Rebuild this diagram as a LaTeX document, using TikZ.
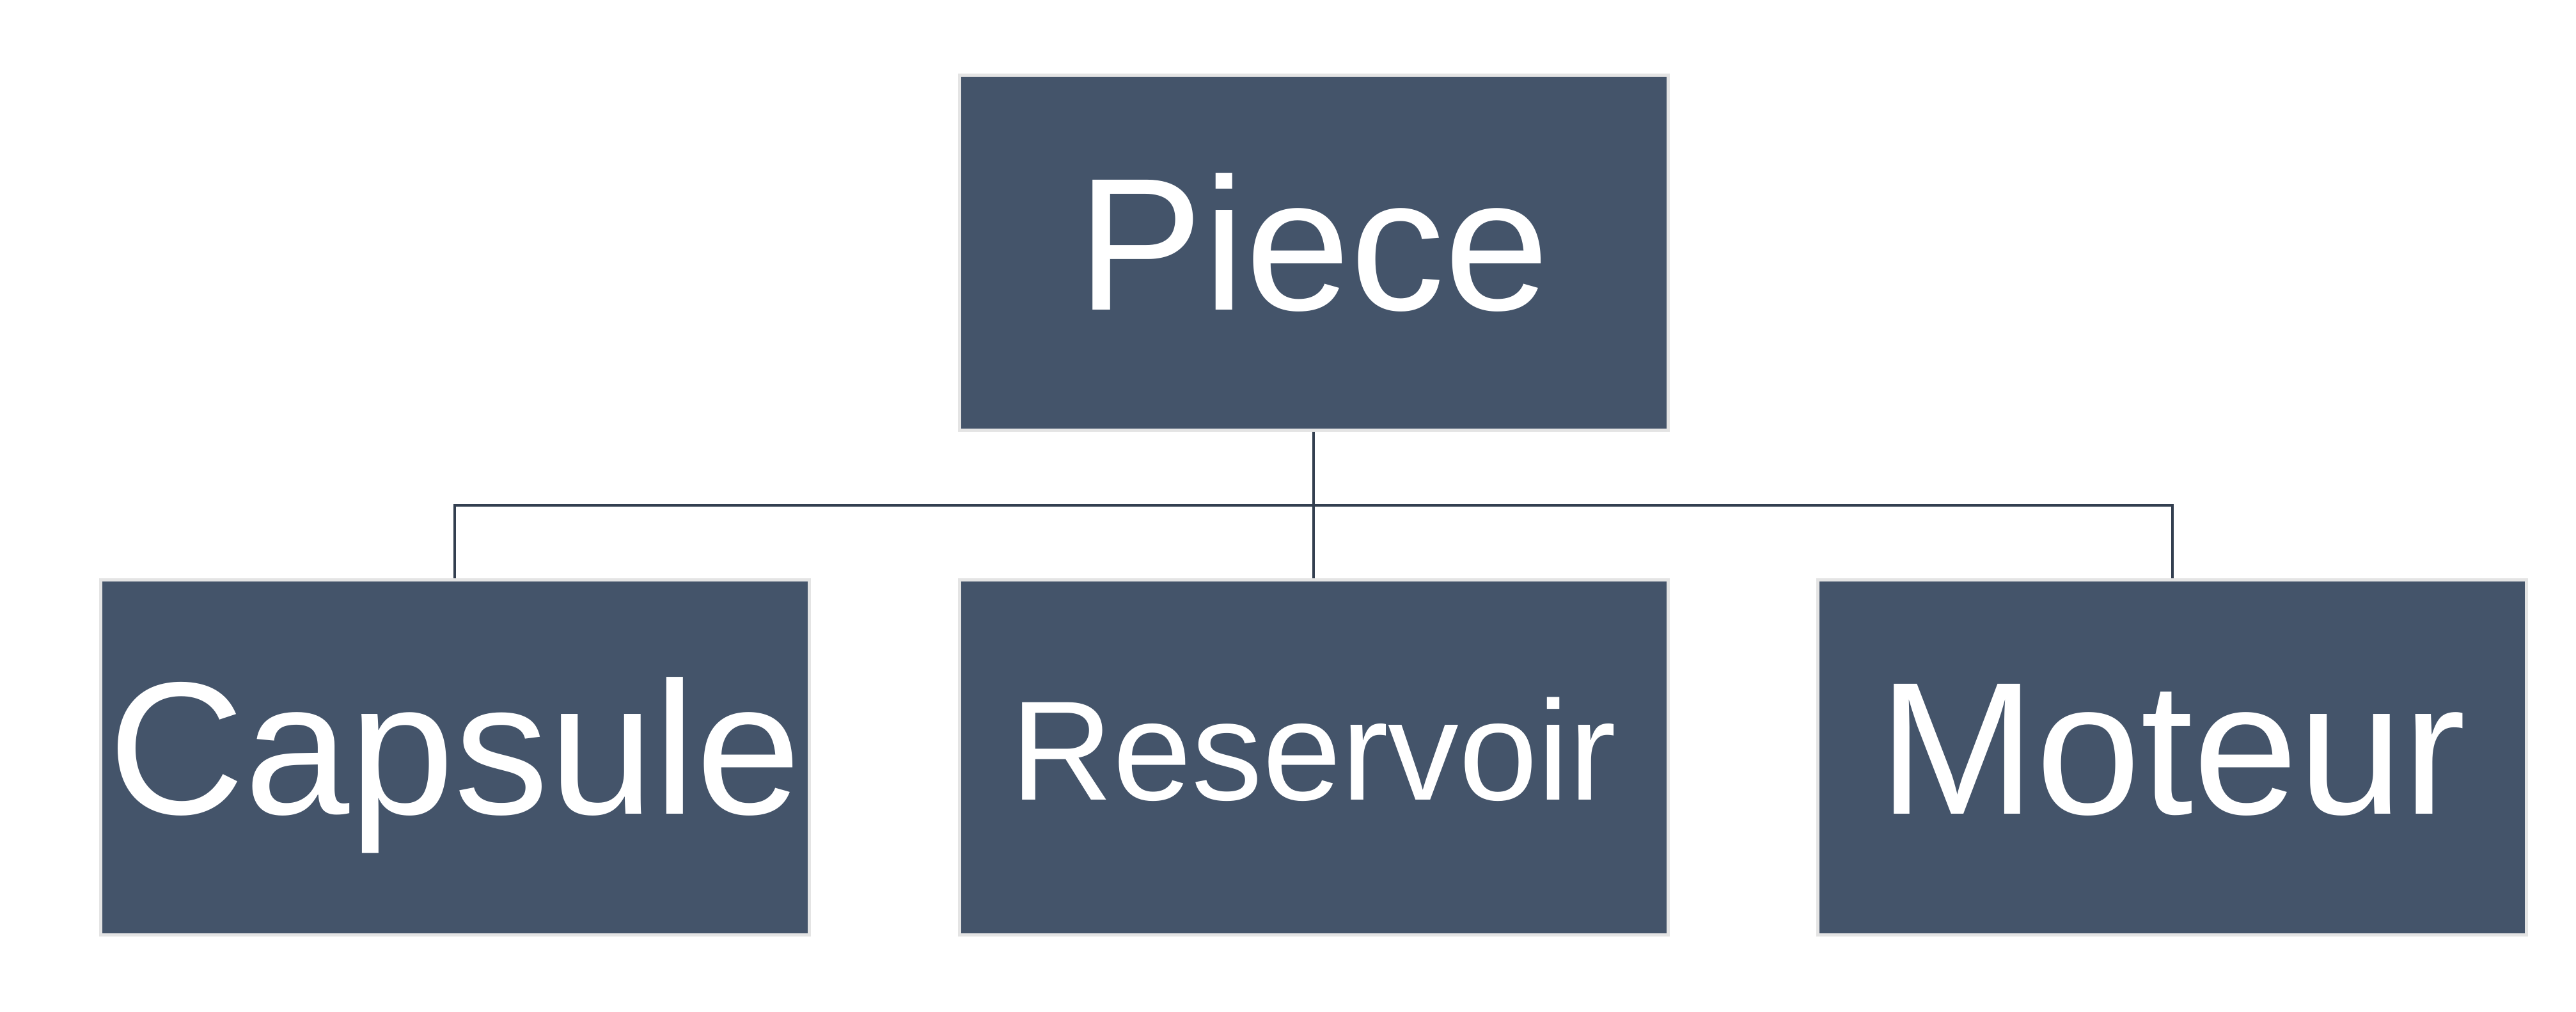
\documentclass[tikz,border=0pt]{standalone}
\usepackage{fontspec}
\setmainfont{Liberation Sans}
\definecolor{boxblue}{HTML}{44546A}
\definecolor{boxrim}{HTML}{E4E4E4}
\definecolor{linkdark}{HTML}{333F50}
\begin{document}
\begin{tikzpicture}[
        part/.style={fill=boxblue, draw=boxrim, line width=0.05cm, minimum width=11.08cm, minimum height=5.55cm, inner sep=0pt, text=white, font=\fontsize{84}{100}\selectfont, text height=1.78cm, text depth=0pt},
        link/.style={draw=linkdark, line width=0.04cm}
    ]
        \useasboundingbox (0, 0) rectangle (40.28, -15.81);
        \node[part] (piece) at (20.54, -3.95) {Piece};
        \node[part] (capsule) at (7.11, -11.835) {Capsule};
        \node[part, font=\fontsize{63}{76}\selectfont, text height=1.33cm] (reservoir) at (20.54, -11.835) {Reservoir};
        \node[part] (moteur) at (33.965, -11.835) {Moteur};
        \coordinate (bus) at (20.54, -7.90);
        \draw[link] (piece.south) -- (reservoir.north);
        \draw[link] (bus) -| (capsule.north);
        \draw[link] (bus) -| (moteur.north);
    \end{tikzpicture}
\end{document}
